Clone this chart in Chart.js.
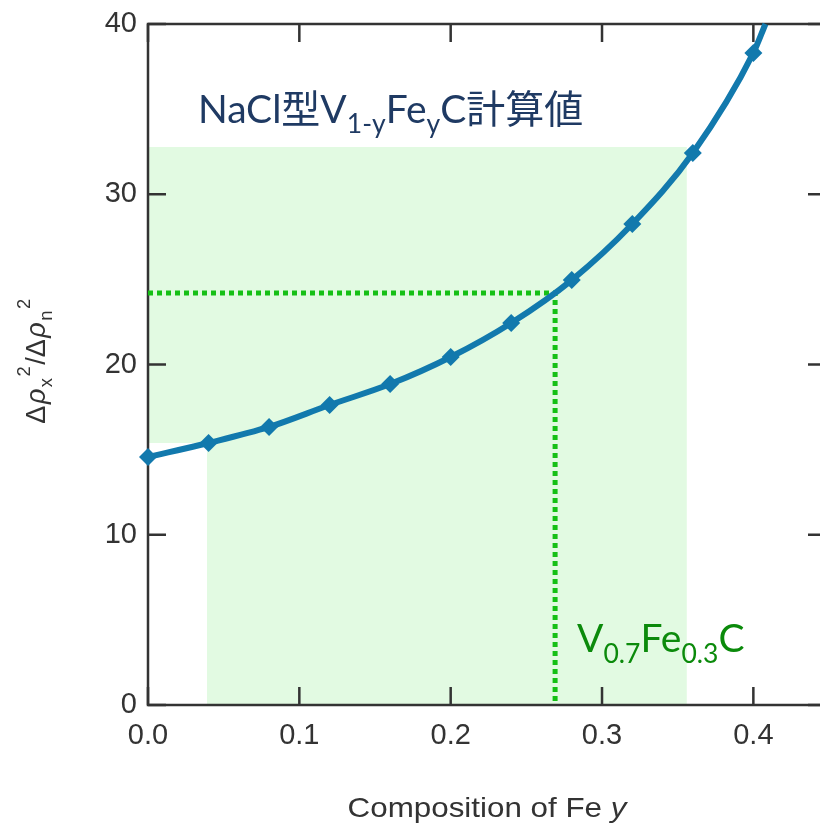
<!DOCTYPE html>
<html>
<head>
<meta charset="utf-8">
<script src="https://cdn.jsdelivr.net/npm/chart.js@4.4.0/dist/chart.umd.min.js"></script>
<style>
  html, body { margin: 0; padding: 0; background: #fff; }
  #wrap { width: 820px; height: 825px; overflow: hidden; position: relative; }
  canvas { display: block; }
</style>
</head>
<body>
<div id="wrap"><canvas id="chart" width="860" height="825"></canvas></div>
<script>
// --- Data ---
// composition of Fe (y) and calculated ratio; last point is where the curve leaves the frame
const feY = [0, 0.04, 0.08, 0.12, 0.16, 0.20, 0.24, 0.28, 0.32, 0.36, 0.40, 0.408];
const ratio = [14.57, 15.39, 16.33, 17.62, 18.85, 20.44, 22.44, 24.96, 28.25, 32.42, 38.3, 40];
const hasMarker = [1, 1, 1, 1, 1, 1, 1, 1, 1, 1, 1, 0];

// dotted guide to V0.7Fe0.3C
const guideX = [0, 0.269, 0.269];
const guideY = [24.2, 24.2, 0];

// shaded region (closed outline)
const shadeX = [0, 0.039, 0.039, 0.356, 0.356, 0];
const shadeY = [15.39, 15.39, 0, 0, 32.78, 32.78];

const xTicks = [0, 0.1, 0.2, 0.3, 0.4];
const yTicks = [0, 10, 20, 30, 40];

// --- Labels ---
const labelNaCl = { x: 0.033, y: 34.2, parts: [{ t: 'NaCl型V' }, { sub: '1-y' }, { t: 'Fe' }, { sub: 'y' }, { t: 'C計算値' }] };
const labelV = { x: 0.2835, y: 3.1, parts: [{ t: 'V' }, { sub: '0.7' }, { t: 'Fe' }, { sub: '0.3' }, { t: 'C' }] };
const yTitle = [{ t: 'Δ' }, { t: 'ρ', it: true }, { sub: 'x' }, { sup: '2' }, { t: '/Δ' }, { t: 'ρ', it: true }, { sub: 'n' }, { sup: '2' }];
const xTitle = [{ t: 'Composition of Fe ' }, { t: 'y', it: true }];

const AXIS_FONT = '"Liberation Sans", Arial, sans-serif';
const NOTE_FONT = 'Lato, "Noto Sans CJK JP", sans-serif';
const AXIS_COLOR = '#333';

const pts = (xs, ys) => xs.map((x, i) => ({ x: x, y: ys[i] }));

// draw text with sub/superscripts, returns width
function richText(ctx, parts, x, y, size, family, color, align, gap) {
    const small = size * 0.68;
    const font = (s, it) => (it ? 'italic ' : '') + s + 'px ' + family;
    gap = gap || 0;
    let w = 0;
    const widths = parts.map(p => {
        let pw = 0;
        if (p.t) { ctx.font = font(size, p.it); pw = ctx.measureText(p.t).width; }
        else {
            ctx.font = font(small);
            pw = Math.max(p.sub ? ctx.measureText(p.sub).width : 0, p.sup ? ctx.measureText(p.sup).width : 0);
        }
        pw += gap;
        w += pw;
        return pw;
    });
    let cx = align === 'center' ? x - w / 2 : x;
    ctx.fillStyle = color;
    ctx.textBaseline = 'alphabetic';
    ctx.textAlign = 'left';
    parts.forEach((p, i) => {
        if (p.t) { ctx.font = font(size, p.it); ctx.fillText(p.t, cx, y); }
        else {
            ctx.font = font(small);
            if (p.sub) ctx.fillText(p.sub, cx, y + size * 0.27);
            if (p.sup) ctx.fillText(p.sup, cx, y - size * 0.55);
        }
        cx += widths[i];
    });
    return w;
}

const framePlugin = {
    id: 'frame',
    beforeDatasetsDraw(chart) {
        const { ctx, chartArea: a, scales } = chart;
        const tl = 18;
        ctx.save();
        ctx.strokeStyle = '#333';
        ctx.lineWidth = 2.5;
        ctx.strokeRect(a.left, a.top, a.right - a.left, a.bottom - a.top);
        ctx.beginPath();
        xTicks.forEach(v => {
            const px = scales.x.getPixelForValue(v);
            ctx.moveTo(px, a.bottom); ctx.lineTo(px, a.bottom - tl);
            ctx.moveTo(px, a.top); ctx.lineTo(px, a.top + tl);
        });
        yTicks.forEach(v => {
            const py = scales.y.getPixelForValue(v);
            ctx.moveTo(a.left, py); ctx.lineTo(a.left + tl, py);
            ctx.moveTo(a.right, py); ctx.lineTo(a.right - tl, py);
        });
        ctx.stroke();
        ctx.restore();
    },
    afterDraw(chart) {
        const { ctx, chartArea: a, scales } = chart;
        ctx.save();
        // annotations
        [[labelNaCl, '#1f3a63'], [labelV, '#0b8a0b']].forEach(([lb, col]) => {
            richText(ctx, lb.parts, scales.x.getPixelForValue(lb.x), scales.y.getPixelForValue(lb.y), 39, NOTE_FONT, col, 'left');
        });
        // x title with italic y (slightly widened like the source)
        ctx.save();
        ctx.translate((a.left + a.right) / 2, 817);
        ctx.scale(1.12, 1);
        richText(ctx, xTitle, 0, 0, 28, AXIS_FONT, AXIS_COLOR, 'center');
        ctx.restore();
        // y title, rotated
        ctx.translate(45, (a.top + a.bottom) / 2 - 4);
        ctx.rotate(-Math.PI / 2);
        richText(ctx, yTitle, 0, 0, 27, AXIS_FONT, AXIS_COLOR, 'center', 1.5);
        ctx.restore();
    }
};

new Chart(document.getElementById('chart'), {
    type: 'line',
    data: {
        datasets: [
            {
                data: pts(feY, ratio),
                borderColor: '#1279ad',
                backgroundColor: '#1279ad',
                borderWidth: 6,
                pointStyle: 'rectRot',
                pointRadius: hasMarker.map(m => m ? 9 : 0),
                pointBorderWidth: 0,
                cubicInterpolationMode: 'monotone',
                fill: false,
                clip: false
            },
            {
                data: pts(guideX, guideY),
                borderColor: '#16c016',
                borderWidth: 5,
                borderDash: [5, 4],
                pointRadius: 0,
                fill: false,
                tension: 0
            },
            {
                data: pts(shadeX, shadeY),
                borderWidth: 0,
                borderColor: 'rgba(0,0,0,0)',
                backgroundColor: '#e2fae2',
                pointRadius: 0,
                fill: 'shape',
                tension: 0
            }
        ]
    },
    options: {
        responsive: false,
        animation: false,
        layout: { padding: { top: 24, right: 34, left: 0, bottom: 0 } },
        plugins: {
            legend: { display: false },
            tooltip: { enabled: false },
            filler: { drawTime: 'beforeDatasetsDraw' }
        },
        scales: {
            x: {
                type: 'linear',
                min: 0,
                max: 0.448,
                grid: { display: false, drawTicks: false },
                border: { display: false },
                ticks: {
                    stepSize: 0.1,
                    padding: 14,
                    maxRotation: 0,
                    color: AXIS_COLOR,
                    font: { family: AXIS_FONT, size: 29 },
                    callback: v => v.toFixed(1)
                },
                afterBuildTicks: s => { s.ticks = xTicks.map(v => ({ value: v })); },
                afterFit: s => { s.height = 120; s.paddingLeft = 0; s.paddingRight = 0; }
            },
            y: {
                min: 0,
                max: 40,
                grid: { display: false, drawTicks: false },
                border: { display: false },
                ticks: {
                    stepSize: 10,
                    padding: 11,
                    color: AXIS_COLOR,
                    font: { family: AXIS_FONT, size: 29 }
                },
                afterBuildTicks: s => { s.ticks = yTicks.map(v => ({ value: v })); },
                afterFit: s => { s.width = 148; s.paddingTop = 0; s.paddingBottom = 0; }
            }
        }
    },
    plugins: [framePlugin]
});
</script>
</body>
</html>
